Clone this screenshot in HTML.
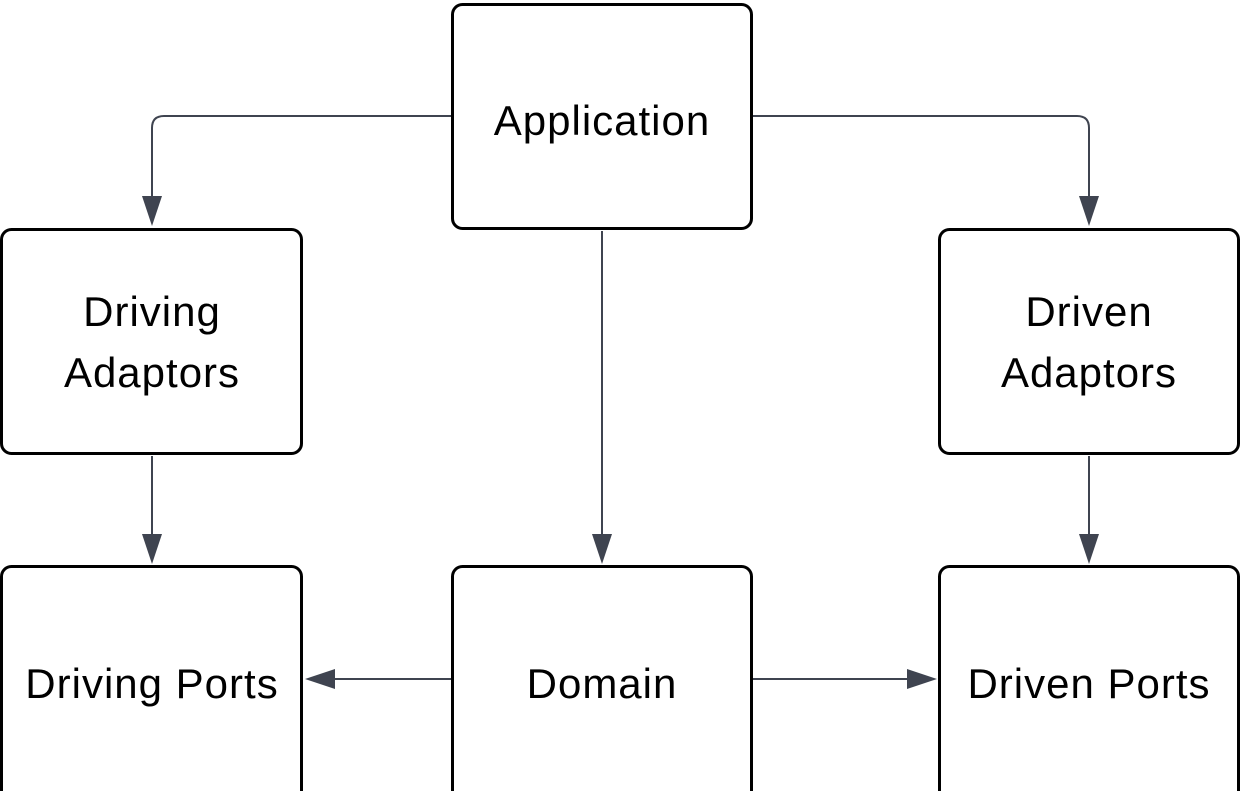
<!DOCTYPE html>
<html><head><style>
body{margin:0;background:#fff;width:1241px;height:791px;overflow:hidden;font-family:"Liberation Sans",sans-serif}
</style></head><body>
<svg width="1241" height="791" viewBox="0 0 1241 791" xmlns="http://www.w3.org/2000/svg">
<g fill="#fff" stroke="#000" stroke-width="3">
<rect x="452.5" y="4.5" width="299" height="224" rx="10"/>
<rect x="1.5" y="229.5" width="300" height="224" rx="10"/>
<rect x="939.5" y="229.5" width="299" height="224" rx="10"/>
<rect x="1.5" y="566.5" width="300" height="240" rx="10"/>
<rect x="452.5" y="566.5" width="299" height="240" rx="10"/>
<rect x="939.5" y="566.5" width="299" height="240" rx="10"/>
</g>
<g fill="none" stroke="#3f4450" stroke-width="2">
<path d="M451 116 H164 Q152 116 152 128 V198"/>
<path d="M753 116 H1077 Q1089 116 1089 128 V198"/>
<path d="M602 231 V536"/>
<path d="M152 456 V536"/>
<path d="M1089 456 V536"/>
<path d="M451 679 H334"/>
<path d="M753 679 H908"/>
</g>
<g fill="#3f4450">
<path d="M142 196 H162 L152 226Z"/>
<path d="M1079 196 H1099 L1089 226Z"/>
<path d="M592 534 H612 L602 564Z"/>
<path d="M142 534 H162 L152 564Z"/>
<path d="M1079 534 H1099 L1089 564Z"/>
<path d="M335 669 V689 L305 679Z"/>
<path d="M907 669 V689 L937 679Z"/>
</g>
<g font-size="42" letter-spacing="1" text-anchor="middle" fill="#000" font-family="Liberation Sans, sans-serif">
<text x="602" y="135">Application</text>
<text x="152" y="326">Driving</text>
<text x="152" y="387">Adaptors</text>
<text x="1089" y="326">Driven</text>
<text x="1089" y="387">Adaptors</text>
<text x="152" y="698">Driving Ports</text>
<text x="602" y="698">Domain</text>
<text x="1089" y="698">Driven Ports</text>
</g>
</svg>
</body></html>
